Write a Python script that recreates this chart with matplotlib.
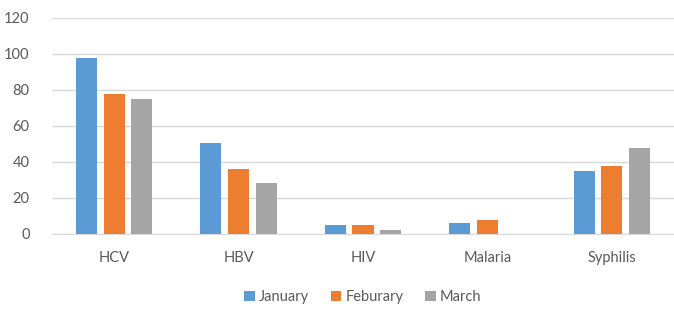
import matplotlib.pyplot as plt
import numpy as np

categories = ["HCV", "HBV", "HIV", "Malaria", "Syphilis"]
january = [97.5, 50.5, 5, 6, 35]
feburary = [78, 36, 5, 7.5, 37.5]
march = [75, 28.5, 2, 0, 48]
series_names = ["January", "Feburary", "March"]
colors = ["#5B9BD5", "#ED7D31", "#A5A5A5"]
yticks = [0, 20, 40, 60, 80, 100, 120]

plt.rcParams["font.family"] = ["Lato", "DejaVu Sans"]

fig = plt.figure(figsize=(6.74, 3.09), dpi=100)
ax = fig.add_axes([0.077, 0.243, 0.923, 0.699])

x = np.arange(len(categories))
width = 0.17
step = 0.222
for i, (vals, name, c) in enumerate(zip([january, feburary, march], series_names, colors)):
    ax.bar(x + (i - 1) * step, vals, width, color=c, label=name, zorder=3)

ax.set_xlim(-0.5, len(categories) - 0.5)
ax.set_ylim(0, 120)
ax.set_yticks(yticks)
ax.set_xticks(x)
ax.set_xticklabels(categories)
ax.grid(axis="y", color="#D9D9D9", linewidth=1, zorder=0)
for side in ["top", "right", "left"]:
    ax.spines[side].set_visible(False)
ax.spines["bottom"].set_color("#D9D9D9")
ax.tick_params(axis="both", length=0, labelsize=10.5, colors="#595959")
ax.tick_params(axis="y", pad=16)
ax.tick_params(axis="x", pad=12)

ax.legend(loc="upper center", bbox_to_anchor=(0.5, -0.2), ncol=3, frameon=False,
          fontsize=10.5, labelcolor="#595959", handlelength=0.7, handleheight=0.7,
          handletextpad=0.3, columnspacing=1.5)

fig.savefig("out.png", dpi=100)
